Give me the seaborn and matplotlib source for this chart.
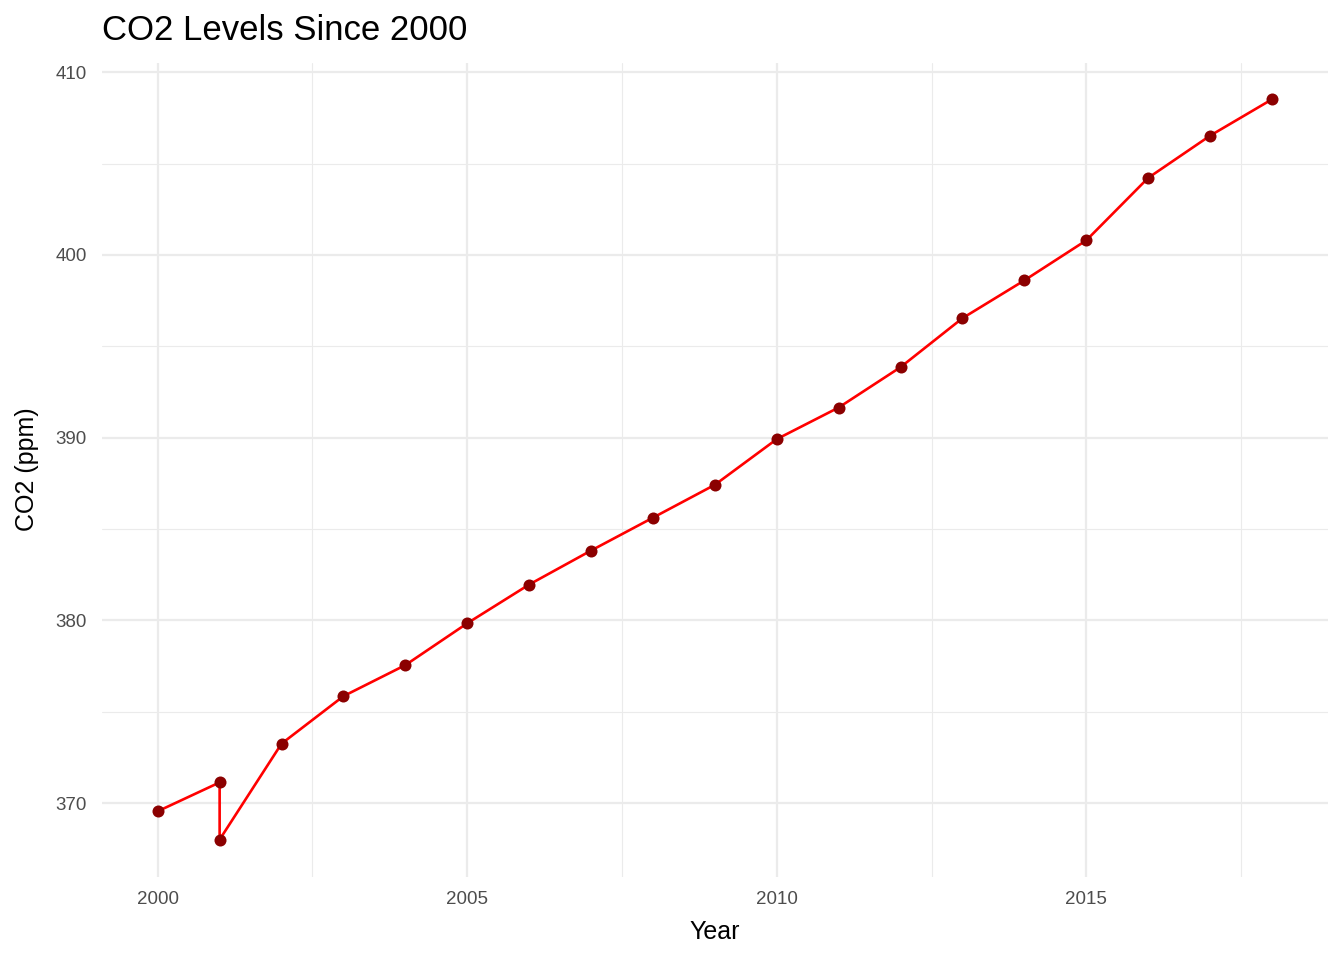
import numpy as np
import pandas as pd
import seaborn as sns
import matplotlib.pyplot as plt

years = [2000, 2001, 2001, 2002, 2003, 2004, 2005, 2006, 2007, 2008,
         2009, 2010, 2011, 2012, 2013, 2014, 2015, 2016, 2017, 2018]
co2 = [369.55, 371.13, 368.0, 373.25, 375.85, 377.55, 379.84, 381.96,
       383.82, 385.62, 387.42, 389.92, 391.65, 393.86, 396.54, 398.61,
       400.80, 404.22, 406.53, 408.52]

df = pd.DataFrame({'Year': years, 'CO2': co2})

sns.set_style('white')
plt.rcParams['font.family'] = ['Liberation Sans', 'DejaVu Sans']

fig = plt.figure(figsize=(13.44, 9.6), dpi=100)
ax = fig.add_axes([0.0759, 0.0868, 0.912, 0.848])

# grid like theme_minimal
for v in [2002.5, 2007.5, 2012.5, 2017.5]:
    ax.axvline(v, color='#ebebeb', lw=0.8, zorder=0)
for v in [365, 375, 385, 395, 405]:
    ax.axhline(v, color='#ebebeb', lw=0.8, zorder=0)
for v in [2000, 2005, 2010, 2015]:
    ax.axvline(v, color='#ebebeb', lw=1.6, zorder=0)
for v in [370, 380, 390, 400, 410]:
    ax.axhline(v, color='#ebebeb', lw=1.6, zorder=0)

sns.lineplot(data=df, x='Year', y='CO2', sort=False, estimator=None,
             color='red', linewidth=1.9, ax=ax, zorder=2)
sns.scatterplot(data=df, x='Year', y='CO2', color='#8b0000', s=75,
                linewidth=0, ax=ax, zorder=3)

ax.set_xlim(1999.1, 2018.9)
ax.set_ylim(365.97, 410.53)
ax.set_xticks([2000, 2005, 2010, 2015])
ax.set_yticks([370, 380, 390, 400, 410])
for s in ax.spines.values():
    s.set_visible(False)
ax.tick_params(length=0, labelsize=13.5, labelcolor='#4d4d4d')
ax.tick_params(axis='x', pad=10)
ax.tick_params(axis='y', pad=11)

ax.set_xlabel('Year', fontsize=18, color='black', labelpad=9)
ax.set_ylabel('CO2 (ppm)', fontsize=18, color='black', labelpad=12)
ax.set_title('CO2 Levels Since 2000', loc='left', fontsize=25,
             color='black', pad=16)

fig.savefig('out.png', dpi=100)
